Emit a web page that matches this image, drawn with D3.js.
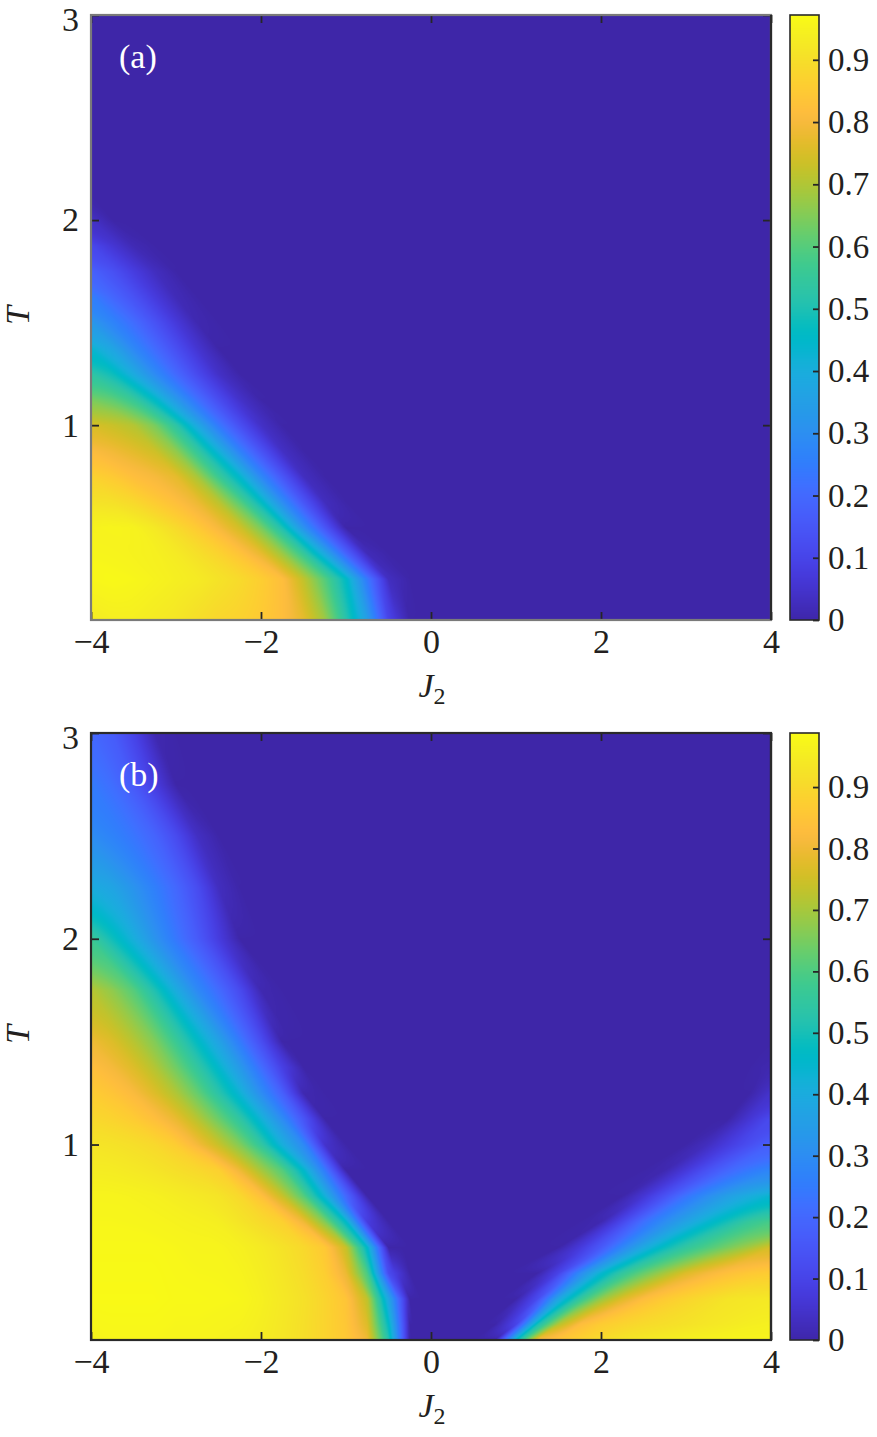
<!DOCTYPE html>
<html><head><meta charset="utf-8">
<script src="https://cdn.jsdelivr.net/npm/d3@7"></script>
<style>
html,body{margin:0;padding:0;background:#fff;}
svg text{font-family:"Liberation Serif","Times New Roman",serif;}
</style></head>
<body>
<svg id="chart" width="877" height="1437"></svg>
<script>
// ---------------- data ----------------
// panel (a): J2 grid (flat zero region beyond J2 = 0), T grid, values z[T][J2]
const jGridA = [-4,-3.75,-3.5,-3.25,-3,-2.75,-2.5,-2.25,-2,-1.75,-1.5,-1.25,-1,-0.75,-0.5,-0.25,0,4];
const tGridA = [0.05,0.25,0.375,0.5,0.625,0.75,0.875,1.0,1.125,1.25,1.375,1.5,1.625,1.75,1.875,2.0,2.125,3.0];
const zA = [
 [.93,.94,.94,.93,.92,.90,.88,.87,.85,.82,.77,.68,.52,.35,.10,0,0,0],
 [.96,.965,.96,.95,.94,.93,.91,.89,.86,.82,.72,.60,.46,.24,.03,0,0,0],
 [.957,.954,.95,.944,.928,.902,.872,.832,.774,.677,.55,.38,.185,.02,0,0,0,0],
 [.95,.955,.95,.925,.89,.85,.80,.74,.64,.50,.31,.15,0,0,0,0,0,0],
 [.91,.905,.886,.854,.822,.782,.713,.60,.463,.295,.148,.027,0,0,0,0,0,0],
 [.87,.85,.82,.80,.77,.69,.56,.44,.28,.15,.03,0,0,0,0,0,0,0],
 [.81,.79,.765,.735,.663,.545,.41,.26,.14,.036,0,0,0,0,0,0,0,0],
 [.75,.73,.705,.64,.53,.38,.24,.13,.04,0,0,0,0,0,0,0,0,0],
 [.64,.61,.554,.454,.331,.218,.122,.044,0,0,0,0,0,0,0,0,0,0],
 [.53,.48,.39,.29,.20,.115,.04,0,0,0,0,0,0,0,0,0,0,0],
 [.43,.37,.28,.205,.128,.055,0,0,0,0,0,0,0,0,0,0,0,0],
 [.33,.27,.21,.14,.07,.01,0,0,0,0,0,0,0,0,0,0,0,0],
 [.255,.195,.138,.075,.02,0,0,0,0,0,0,0,0,0,0,0,0,0],
 [.18,.135,.08,.03,0,0,0,0,0,0,0,0,0,0,0,0,0,0],
 [.11,.06,.015,0,0,0,0,0,0,0,0,0,0,0,0,0,0,0],
 [.04,0,0,0,0,0,0,0,0,0,0,0,0,0,0,0,0,0],
 [0,0,0,0,0,0,0,0,0,0,0,0,0,0,0,0,0,0],
 [0,0,0,0,0,0,0,0,0,0,0,0,0,0,0,0,0,0]
];

// panel (b)
const jGridB = [-4,-3.75,-3.5,-3.25,-3,-2.75,-2.5,-2.25,-2,-1.75,-1.5,-1.25,-1,-0.75,-0.5,-0.25,0,
                0.25,0.5,0.75,1,1.25,1.5,1.75,2,2.25,2.5,2.75,3,3.25,3.5,3.75,4];
const tGridB = [0.05,0.125,0.25,0.375,0.5,0.625,0.75,0.875,1.0,1.125,1.25,1.375,1.5,1.75,2.0,2.25,2.5,2.75,3.0];
const zB = [
 [.97,.975,.975,.975,.97,.97,.965,.96,.95,.935,.915,.89,.86,.80,.52,0,0,  0,0,0,.46,.81,.85,.88,.91,.93,.94,.95,.96,.965,.97,.97,.97],
 [.976,.979,.979,.979,.974,.974,.97,.966,.954,.937,.917,.89,.856,.77,.47,0,0,  0,0,0,.1,.5,.72,.83,.87,.89,.905,.915,.925,.935,.945,.955,.96],
 [.985,.985,.985,.985,.98,.98,.978,.975,.96,.94,.92,.89,.85,.73,.38,0,0,  0,0,0,0,.12,.38,.55,.68,.77,.83,.865,.89,.91,.93,.935,.94],
 [.983,.983,.983,.983,.978,.975,.974,.968,.953,.933,.91,.875,.795,.595,.12,0,0,  0,0,0,0,0,.1,.29,.44,.55,.63,.7,.77,.81,.84,.86,.87],
 [.98,.98,.98,.98,.975,.97,.97,.96,.945,.925,.90,.86,.74,.46,0,0,0,  0,0,0,0,0,0,.07,.16,.28,.39,.48,.55,.6,.65,.7,.76],
 [.975,.975,.973,.97,.965,.96,.955,.93,.905,.88,.80,.66,.46,.08,0,0,0,  0,0,0,0,0,0,0,.01,.11,.22,.3,.37,.44,.5,.56,.59],
 [.97,.97,.965,.96,.95,.94,.93,.90,.84,.74,.61,.42,.20,0,0,0,0,  0,0,0,0,0,0,0,0,0,.06,.14,.23,.3,.36,.405,.44],
 [.95,.948,.94,.93,.915,.90,.88,.80,.70,.61,.455,.25,0,0,0,0,0,  0,0,0,0,0,0,0,0,0,0,.01,.07,.14,.2,.245,.28],
 [.93,.925,.915,.90,.87,.81,.74,.66,.55,.41,.29,.05,0,0,0,0,0,  0,0,0,0,0,0,0,0,0,0,0,0,.03,.08,.13,.18],
 [.90,.888,.868,.835,.79,.72,.635,.545,.425,.295,.15,0,0,0,0,0,0,  0,0,0,0,0,0,0,0,0,0,0,0,0,0,.06,.12],
 [.87,.85,.82,.77,.71,.63,.53,.43,.30,.18,.01,0,0,0,0,0,0,  0,0,0,0,0,0,0,0,0,0,0,0,0,0,0,.05],
 [.835,.81,.77,.715,.64,.55,.45,.34,.215,.09,0,0,0,0,0,0,0,  0,0,0,0,0,0,0,0,0,0,0,0,0,0,0,.01],
 [.80,.77,.72,.66,.57,.47,.37,.25,.13,0,0,0,0,0,0,0,0,  0,0,0,0,0,0,0,0,0,0,0,0,0,0,0,0],
 [.72,.675,.61,.51,.40,.29,.21,.12,.01,0,0,0,0,0,0,0,0,  0,0,0,0,0,0,0,0,0,0,0,0,0,0,0,0],
 [.57,.49,.41,.32,.24,.165,.08,0,0,0,0,0,0,0,0,0,0,  0,0,0,0,0,0,0,0,0,0,0,0,0,0,0,0],
 [.40,.375,.32,.26,.20,.125,.03,0,0,0,0,0,0,0,0,0,0,  0,0,0,0,0,0,0,0,0,0,0,0,0,0,0,0],
 [.30,.27,.235,.19,.12,.035,0,0,0,0,0,0,0,0,0,0,0,  0,0,0,0,0,0,0,0,0,0,0,0,0,0,0,0],
 [.25,.215,.16,.08,0,0,0,0,0,0,0,0,0,0,0,0,0,  0,0,0,0,0,0,0,0,0,0,0,0,0,0,0,0],
 [.20,.17,.10,.01,0,0,0,0,0,0,0,0,0,0,0,0,0,  0,0,0,0,0,0,0,0,0,0,0,0,0,0,0,0]
];

const xTicks = [-4,-2,0,2,4];
const yTicks = [1,2,3];
const cbTicks = [0,0.1,0.2,0.3,0.4,0.5,0.6,0.7,0.8,0.9];
const cbMaxA = 0.972;
const cbMaxB = 0.988;
const xDomain = [-4,4];
const yDomain = [0.05,3];

// parula colormap anchors
const parula = [
[0.2422,0.1504,0.6603],[0.2504,0.1650,0.7076],[0.2578,0.1818,0.7511],[0.2647,0.1978,0.7952],
[0.2706,0.2147,0.8364],[0.2751,0.2342,0.8710],[0.2783,0.2559,0.8991],[0.2803,0.2782,0.9221],
[0.2813,0.3006,0.9414],[0.2810,0.3228,0.9579],[0.2795,0.3447,0.9717],[0.2760,0.3667,0.9829],
[0.2699,0.3892,0.9906],[0.2602,0.4123,0.9952],[0.2440,0.4358,0.9988],[0.2206,0.4603,0.9973],
[0.1963,0.4847,0.9892],[0.1834,0.5074,0.9798],[0.1786,0.5289,0.9682],[0.1764,0.5499,0.9520],
[0.1687,0.5703,0.9359],[0.1540,0.5902,0.9218],[0.1460,0.6091,0.9079],[0.1380,0.6276,0.8973],
[0.1248,0.6459,0.8883],[0.1113,0.6635,0.8763],[0.0952,0.6798,0.8598],[0.0689,0.6948,0.8394],
[0.0297,0.7082,0.8163],[0.0036,0.7203,0.7917],[0.0067,0.7312,0.7660],[0.0433,0.7411,0.7394],
[0.0964,0.7500,0.7120],[0.1408,0.7584,0.6842],[0.1717,0.7670,0.6554],[0.1938,0.7758,0.6251],
[0.2161,0.7843,0.5923],[0.2470,0.7918,0.5567],[0.2906,0.7973,0.5188],[0.3406,0.8008,0.4789],
[0.3909,0.8029,0.4354],[0.4456,0.8024,0.3909],[0.5044,0.7993,0.3480],[0.5616,0.7942,0.3045],
[0.6174,0.7876,0.2612],[0.6720,0.7793,0.2227],[0.7242,0.7698,0.1910],[0.7738,0.7598,0.1646],
[0.8203,0.7498,0.1535],[0.8634,0.7406,0.1596],[0.9035,0.7330,0.1774],[0.9393,0.7288,0.2100],
[0.9728,0.7298,0.2394],[0.9956,0.7434,0.2371],[0.9970,0.7659,0.2199],[0.9952,0.7893,0.2028],
[0.9892,0.8136,0.1885],[0.9786,0.8386,0.1766],[0.9676,0.8639,0.1643],[0.9610,0.8890,0.1537],
[0.9597,0.9135,0.1423],[0.9628,0.9373,0.1265],[0.9691,0.9606,0.1064],[0.9769,0.9839,0.0805]];

// ---------------- drawing ----------------
const svg = d3.select("#chart");
const FONT = '"Liberation Serif","Times New Roman",serif';
const TXT = "#231f20";

const parInterp = d3.piecewise(d3.interpolateRgb, parula.map(c => d3.rgb(c[0]*255, c[1]*255, c[2]*255)));
const LUTN = 1024;
const lut = d3.range(LUTN).map(i => d3.rgb(parInterp(i/(LUTN-1))));

function clamp(v, a, b){ return v < a ? a : (v > b ? b : v); }

function gridLocator(grid){
  return v => {
    let i = d3.bisectRight(grid, v) - 1;
    i = clamp(i, 0, grid.length - 2);
    const f = clamp((v - grid[i]) / (grid[i+1] - grid[i]), 0, 1);
    return [i, f];
  };
}

// linear interpolation along one T row, restricted to the half-range [a, b]
function rowFn(row, jG){
  const loc = gridLocator(jG);
  return (J, a, b) => { const [i, f] = loc(clamp(J, a, b)); return row[i]*(1-f) + row[i+1]*f; };
}

// Between two T rows the bands travel sideways; find that sideways travel so that
// the in-between rows are drawn by moving the bands instead of cross-fading them.
function estimateShift(f0, f1, a, b){
  const Js = d3.range(a, b + 1e-9, 0.04);
  const cand = [0];
  for (let t = 1; t <= 110; t++){ cand.push(t*0.01, -t*0.01); }
  let best = 0, bestErr = Infinity;
  for (const s of cand){
    let e = 0;
    for (const J of Js){ const d = f0(J + s, a, b) - f1(J, a, b); e += d*d; }
    if (e < bestErr - 1e-12){ bestErr = e; best = s; }
  }
  return best;
}

function heatURL(p, x, y){
  const {z, jG, tG, vmax, split} = p;
  const fns = z.map(r => rowFn(r, jG));
  const lo = jG[0], hi = jG[jG.length-1];
  const halves = split == null ? [[lo, hi]] : [[lo, split], [split, hi]];
  const shifts = d3.range(z.length - 1).map(k => halves.map(([a, b]) => estimateShift(fns[k], fns[k+1], a, b)));

  const [x0, x1] = x.range();
  const [yb, yt] = y.range();
  const w = Math.round(x1 - x0), h = Math.round(yb - yt);
  const cv = document.createElement("canvas"); cv.width = w; cv.height = h;
  const ctx = cv.getContext("2d");
  const img = ctx.createImageData(w, h);
  const locT = gridLocator(tG);
  const Js = d3.range(w).map(px => x.invert(x0 + px + 0.5));
  for (let py = 0; py < h; py++){
    const [k, g] = locT(y.invert(yt + py + 0.5));
    const f0 = fns[k], f1 = fns[k+1];
    for (let px = 0; px < w; px++){
      const J = Js[px];
      const hIdx = (split != null && J > split) ? 1 : 0;
      const [a, b] = halves[hIdx];
      const s = shifts[k][hIdx];
      const v = (1-g) * f0(J + g*s, a, b) + g * f1(J - (1-g)*s, a, b);
      const c = lut[Math.round(clamp(v / vmax, 0, 1) * (LUTN-1))];
      const o = (py*w + px)*4;
      img.data[o] = c.r; img.data[o+1] = c.g; img.data[o+2] = c.b; img.data[o+3] = 255;
    }
  }
  ctx.putImageData(img, 0, 0);
  return {url: cv.toDataURL(), w, h};
}

function barURL(cb, w){
  const [yb, yt] = cb.range();
  const h = Math.round(yb - yt);
  const cv = document.createElement("canvas"); cv.width = w; cv.height = h;
  const ctx = cv.getContext("2d");
  const vmax = cb.domain()[1];
  for (let py = 0; py < h; py++){
    const v = cb.invert(yt + py + 0.5);
    const c = lut[Math.round(clamp(v / vmax, 0, 1) * (LUTN-1))];
    ctx.fillStyle = c.formatRgb();
    ctx.fillRect(0, py, w, 1);
  }
  return cv.toDataURL();
}

function styleAxis(g, size){
  g.attr("font-family", FONT).attr("font-size", size).attr("color", "#262626");
  g.select(".domain").remove();
  g.selectAll(".tick line").attr("stroke-width", 1.8);
  g.selectAll(".tick text").attr("fill", TXT);
}

const panels = [
  {z: zA, jG: jGridA, tG: tGridA, vmax: cbMaxA, split: null, top: 15, bottom: 620, label: "(a)", frame: "#7a7a7a"},
  {z: zB, jG: jGridB, tG: tGridB, vmax: cbMaxB, split: 0.25, top: 733, bottom: 1340, label: "(b)", frame: "#2a2a2a"}
];

const fmtX = d3.format("d");

panels.forEach(p => {
  const x = d3.scaleLinear().domain(xDomain).range([91, 771]);
  const y = d3.scaleLinear().domain(yDomain).range([p.bottom, p.top]);
  const g = svg.append("g");

  const hm = heatURL(p, x, y);
  g.append("image").attr("href", hm.url)
    .attr("x", x(xDomain[0])).attr("y", y(yDomain[1]))
    .attr("width", hm.w).attr("height", hm.h)
    .attr("preserveAspectRatio", "none");

  // axes with inward ticks
  g.append("g").attr("transform", `translate(0,${p.bottom})`)
    .call(d3.axisBottom(x).tickValues(xTicks).tickFormat(fmtX).tickSizeInner(-8).tickSizeOuter(0).tickPadding(9))
    .call(a => styleAxis(a, 34));
  g.append("g").attr("transform", `translate(0,${p.top})`)
    .call(d3.axisTop(x).tickValues(xTicks).tickFormat(() => "").tickSizeInner(-8).tickSizeOuter(0))
    .call(a => styleAxis(a, 34));
  g.append("g").attr("transform", `translate(91,0)`)
    .call(d3.axisLeft(y).tickValues(yTicks).tickFormat(fmtX).tickSizeInner(-8).tickSizeOuter(0).tickPadding(12))
    .call(a => styleAxis(a, 34))
    .call(a => a.selectAll(".tick text").filter(d => d === yDomain[1]).attr("dy", "0.46em"));
  g.append("g").attr("transform", `translate(771,0)`)
    .call(d3.axisRight(y).tickValues(yTicks).tickFormat(() => "").tickSizeInner(-8).tickSizeOuter(0))
    .call(a => styleAxis(a, 34));

  // frame
  g.append("rect").attr("x", 91).attr("y", p.top).attr("width", 680).attr("height", p.bottom - p.top)
    .attr("fill", "none").attr("stroke", p.frame).attr("stroke-width", 2.2);
  g.append("line").attr("x1", 771).attr("x2", 771).attr("y1", p.top).attr("y2", p.bottom)
    .attr("stroke", "#2a2a2a").attr("stroke-width", 2.2);

  // panel label
  g.append("text").attr("x", 119).attr("y", p.top + 53).attr("fill", "#fff")
    .attr("font-size", 34).text(p.label);

  // axis titles
  const xt = g.append("text").attr("x", 432).attr("y", p.bottom + 77)
    .attr("text-anchor", "middle").attr("font-size", 34).attr("fill", TXT);
  xt.append("tspan").attr("font-style", "italic").text("J");
  xt.append("tspan").attr("font-size", 24).attr("dy", 7).text("2");
  g.append("text").attr("transform", `translate(29,${(p.top + p.bottom)/2 - 2}) rotate(-90)`)
    .attr("text-anchor", "middle").attr("font-size", 34).attr("font-style", "italic")
    .attr("fill", TXT).text("T");

  // colorbar
  const cb = d3.scaleLinear().domain([0, p.vmax]).range([p.bottom, p.top]);
  g.append("image").attr("href", barURL(cb, 29))
    .attr("x", 790).attr("y", p.top).attr("width", 29).attr("height", p.bottom - p.top)
    .attr("preserveAspectRatio", "none");
  g.append("g").attr("transform", `translate(819,0)`)
    .call(d3.axisRight(cb).tickValues(cbTicks).tickFormat(d => d === 0 ? "0" : d3.format(".1f")(d))
      .tickSizeInner(-6).tickSizeOuter(0).tickPadding(9))
    .call(a => styleAxis(a, 33));
  g.append("rect").attr("x", 790).attr("y", p.top).attr("width", 29).attr("height", p.bottom - p.top)
    .attr("fill", "none").attr("stroke", "#2a2a2a").attr("stroke-width", 1.6);
});
</script>
</body></html>
